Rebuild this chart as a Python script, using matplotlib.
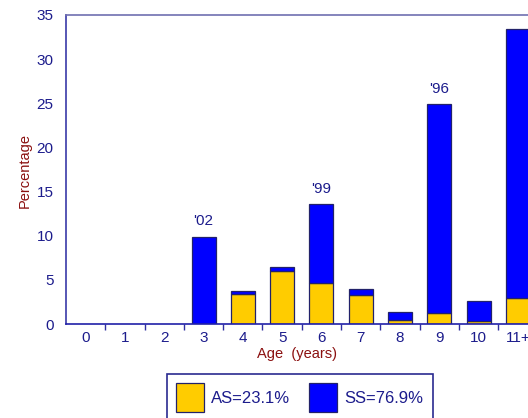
import numpy as np
import matplotlib.pyplot as plt
from matplotlib.ticker import FixedLocator

plt.rcParams['font.family'] = ['Liberation Sans', 'DejaVu Sans']

ages = ['0', '1', '2', '3', '4', '5', '6', '7', '8', '9', '10', '11+']
as_vals = [0, 0, 0, 0, 3.4, 6.0, 4.7, 3.3, 0.5, 1.2, 0.3, 3.0]
ss_vals = [0, 0, 0, 9.9, 0.3, 0.4, 8.9, 0.7, 0.9, 23.7, 2.3, 30.4]
notes = {3: "'02", 6: "'99", 9: "'96"}
legend_labels = ['AS=23.1%', 'SS=76.9%']

navy = '#1c1c8c'
red = '#8b1010'
yellow = '#FFCC00'
blue = '#0000FF'
edge = '#22226a'

fig = plt.figure(figsize=(5.28, 4.18), dpi=100)
# axes run past the right edge, as in the original
ax = fig.add_axes([66/528, 1 - 324/418, 12*39.3/528, 309/418])

x = np.arange(len(ages))
as_arr = np.array(as_vals)
ss_arr = np.array(ss_vals)
tot = as_arr + ss_arr
mask = tot > 0
ax.bar(x[mask], as_arr[mask], width=0.61, color=yellow, edgecolor=edge, linewidth=0.9, label=legend_labels[0])
ax.bar(x[mask], ss_arr[mask], bottom=as_arr[mask], width=0.61, color=blue, edgecolor=edge, linewidth=0.9, label=legend_labels[1])

for i, t in notes.items():
    ax.annotate(t, (x[i], tot[i]), xytext=(0, 6), textcoords='offset points',
                ha='center', va='bottom', color=navy, fontsize=11)

ax.set_xlim(-0.5, 11.5)
ax.set_ylim(0, 35)
ax.set_yticks(range(0, 36, 5))
ax.set_xticks(x)
ax.set_xticklabels(ages)
ax.xaxis.set_minor_locator(FixedLocator(np.arange(0.5, 11, 1)))
ax.tick_params(axis='x', which='major', length=0, pad=5, labelsize=11, labelcolor=navy)
ax.tick_params(axis='x', which='minor', length=4, width=1, color='#3030a0', direction='out')
ax.tick_params(axis='y', length=0, pad=9, labelsize=11, labelcolor=navy)

ax.spines['right'].set_visible(False)
ax.spines['left'].set_color('#3a3aa8')
ax.spines['top'].set_color('#7070b0')
ax.spines['bottom'].set_color('#2020a8')
for s in ['left', 'top', 'bottom']:
    ax.spines[s].set_linewidth(1.2)

fig.text(25/528, 1 - 170/418, 'Percentage', rotation=90, color=red, fontsize=10.5, ha='center', va='center')
fig.text(297/528, 1 - 354/418, 'Age  (years)', color=red, fontsize=10.5, ha='center', va='center')

leg = fig.legend(loc='upper left', bbox_to_anchor=(167/528, 1 - 374/418), ncol=2,
                 fontsize=12, handlelength=1.65, handleheight=2.3, handletextpad=0.45,
                 columnspacing=1.15, borderpad=0.55, borderaxespad=0, fancybox=False,
                 edgecolor='#2a2a90', framealpha=1)
for t in leg.get_texts():
    t.set_color(navy)
leg.get_frame().set_linewidth(1.2)

fig.savefig('out.png', dpi=100)
